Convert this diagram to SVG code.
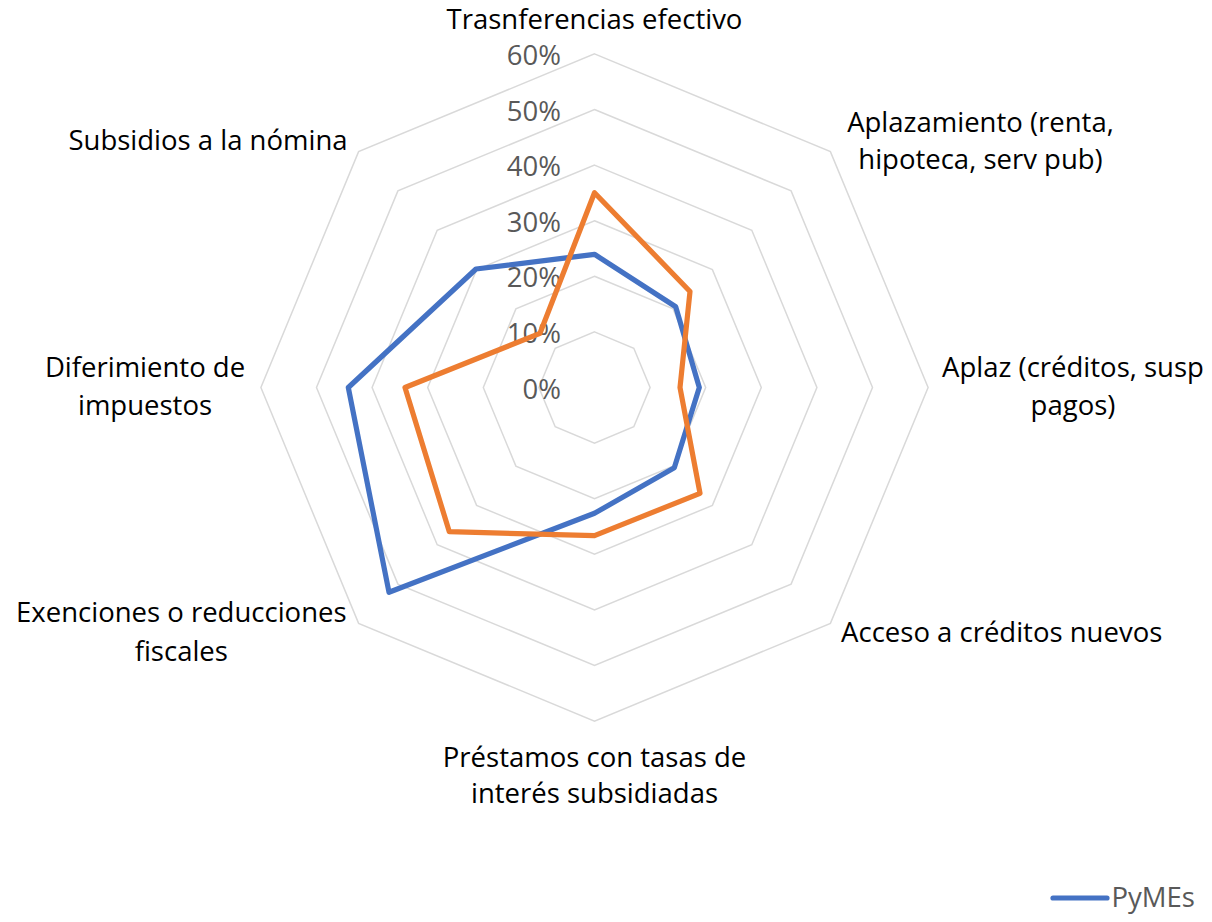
<svg xmlns="http://www.w3.org/2000/svg" width="1212" height="922" viewBox="0 0 1212 922">
<style>
.grid{fill:none;stroke:#D9D9D9;stroke-width:1.5}
.ser{fill:none;stroke-width:5.2;stroke-linejoin:round;stroke-linecap:round}
.cat{font-family:"Open Sans","Liberation Sans",sans-serif;font-size:27.5px;fill:#000;text-anchor:middle}
.tick{font-family:"Open Sans","Liberation Sans",sans-serif;font-size:27.5px;fill:#595959;text-anchor:end}
.leg{font-family:"Open Sans","Liberation Sans",sans-serif;font-size:27.5px;fill:#595959}
</style>
<rect width="1212" height="922" fill="#fff"/>
<g id="gridlines">
<polygon class="grid" points="594.5,331.9 633.8,348.2 650.1,387.5 633.8,426.8 594.5,443.1 555.2,426.8 538.9,387.5 555.2,348.2"/>
<polygon class="grid" points="594.5,276.3 673.1,308.9 705.7,387.5 673.1,466.1 594.5,498.7 515.9,466.1 483.3,387.5 515.9,308.9"/>
<polygon class="grid" points="594.5,220.7 712.4,269.6 761.3,387.5 712.4,505.4 594.5,554.3 476.6,505.4 427.7,387.5 476.6,269.6"/>
<polygon class="grid" points="594.5,165.1 751.8,230.2 816.9,387.5 751.8,544.8 594.5,609.9 437.2,544.8 372.1,387.5 437.2,230.2"/>
<polygon class="grid" points="594.5,109.5 791.1,190.9 872.5,387.5 791.1,584.1 594.5,665.5 397.9,584.1 316.5,387.5 397.9,190.9"/>
<polygon class="grid" points="594.5,53.9 830.4,151.6 928.1,387.5 830.4,623.4 594.5,721.1 358.6,623.4 260.9,387.5 358.6,151.6"/>
</g>
<g id="axis-labels">
<text class="tick" x="561" y="65">60%</text>
<text class="tick" x="561" y="120.6">50%</text>
<text class="tick" x="561" y="176.2">40%</text>
<text class="tick" x="561" y="231.8">30%</text>
<text class="tick" x="561" y="287.4">20%</text>
<text class="tick" x="561" y="343">10%</text>
<text class="tick" x="561" y="398.6">0%</text>
</g>
<g id="series">
<polygon id="series-pymes" class="ser" stroke="#4472C4" points="594.5,254.3 675.7,306.7 699.3,387.5 674.3,467.7 594.5,513.3 389,592.3 348.3,387.5 476,269"/>
<polygon id="series-2" class="ser" stroke="#ED7D31" points="594.5,192.7 690,291.5 680,387.5 700,493.3 594.5,535.7 449.3,531.7 405,387.5 540,333.3"/>
</g>
<g id="category-labels">
<g id="cat-trasnferencias"><text class="cat" x="594.5" y="29.3">Trasnferencias efectivo</text></g>
<g id="cat-aplazamiento"><text class="cat" x="980.5" y="131.7">Aplazamiento (renta,</text><text class="cat" x="980.5" y="169.3">hipoteca, serv pub)</text></g>
<g id="cat-aplaz"><text class="cat" x="1073" y="377.3">Aplaz (créditos, susp</text><text class="cat" x="1073" y="415">pagos)</text></g>
<g id="cat-acceso"><text class="cat" x="1001.7" y="641.7">Acceso a créditos nuevos</text></g>
<g id="cat-prestamos"><text class="cat" x="594.5" y="766.7">Préstamos con tasas de</text><text class="cat" x="594.5" y="803.3">interés subsidiadas</text></g>
<g id="cat-exenciones"><text class="cat" x="181.3" y="622.3">Exenciones o reducciones</text><text class="cat" x="181.3" y="660.7">fiscales</text></g>
<g id="cat-diferimiento"><text class="cat" x="145" y="377.3">Diferimiento de</text><text class="cat" x="145" y="415">impuestos</text></g>
<g id="cat-subsidios"><text class="cat" x="208" y="150">Subsidios a la nómina</text></g>
</g>
<g id="legend">
<line x1="1053" y1="898" x2="1107" y2="898" stroke="#4472C4" stroke-width="5.2" stroke-linecap="round"/>
<text class="leg" x="1111.5" y="906.7">PyMEs</text>
</g>
</svg>
